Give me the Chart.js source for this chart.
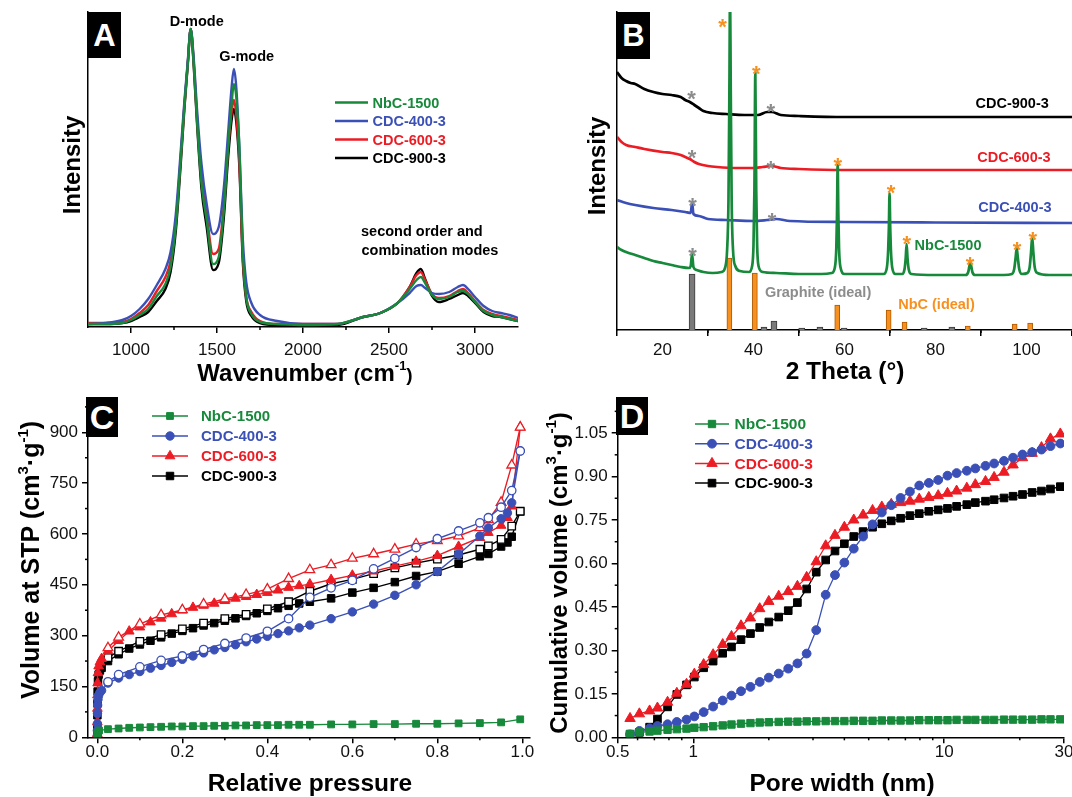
<!DOCTYPE html>
<html>
<head>
<meta charset="utf-8">
<script src="https://cdn.jsdelivr.net/npm/chart.js@4.4.0/dist/chart.umd.min.js"></script>
<style>
html, body { margin: 0; padding: 0; background: #fff; width: 1072px; height: 797px; overflow: hidden; position: relative; }
canvas { position: absolute; }
.tag { position: absolute; background: #000; color: #fff; font-family: 'Liberation Sans', Arial, sans-serif; font-weight: bold; text-align: center; z-index: 5; }
</style>
</head>
<body>
<canvas id="chartA" width="540" height="400" style="left:0;top:0"></canvas>
<canvas id="chartB" width="560" height="400" style="left:536px;top:0"></canvas>
<canvas id="chartC" width="560" height="397" style="left:0;top:400px"></canvas>
<canvas id="chartD" width="560" height="397" style="left:536px;top:400px"></canvas>
<div class="tag" style="left:88px;top:12px;width:33px;height:46px;line-height:47px;font-size:31px">A</div>
<div class="tag" style="left:617px;top:12px;width:33px;height:47px;line-height:48px;font-size:31px">B</div>
<div class="tag" style="left:86px;top:397px;width:32px;height:40px;line-height:40px;font-size:34px">C</div>
<div class="tag" style="left:616px;top:397px;width:32px;height:38px;line-height:38px;font-size:34px">D</div>
<script>
// ---- A: Raman spectra ----
const ramanShift = [750, 850, 950, 1000, 1050, 1100, 1150, 1200, 1230, 1260, 1290, 1310, 1330, 1347, 1365, 1385, 1410, 1440, 1477, 1510, 1540, 1565, 1585, 1598, 1612, 1630, 1650, 1670, 1700, 1750, 1850, 2000, 2200, 2350, 2450, 2550, 2620, 2660, 2685, 2710, 2750, 2790, 2850, 2900, 2930, 2960, 3000, 3050, 3100, 3150, 3200, 3250];
const ramanNbC = [3, 3, 4, 7, 12, 18, 31, 43, 60, 100, 170, 220, 263, 298, 262, 203, 143, 107, 63, 70, 117, 180, 223, 243, 230, 180, 75, 30, 13, 5, 3, 2, 3, 10, 14, 24, 38, 47, 50, 44, 32, 28, 30, 35, 36, 33, 25, 16, 12, 10, 8, 6];
const ramanC400 = [3, 4, 7, 11, 18, 28, 42, 58, 75, 112, 178, 225, 266, 298, 268, 215, 163, 123, 93, 100, 140, 195, 240, 258, 240, 180, 88, 45, 24, 12, 6, 3, 3, 10, 14, 24, 34, 41, 42, 39, 34, 33, 35, 40, 42, 38, 30, 21, 16, 14, 12, 9];
const ramanC600 = [4, 4, 5, 8, 14, 22, 36, 50, 66, 104, 172, 221, 264, 298, 264, 207, 150, 112, 73, 78, 122, 180, 215, 227, 212, 165, 70, 30, 15, 6, 3, 3, 3, 10, 14, 24, 40, 52, 55, 47, 33, 29, 31, 36, 38, 34, 26, 17, 13, 11, 9, 7];
const ramanC900 = [3, 3, 4, 6, 10, 15, 26, 38, 55, 95, 165, 217, 262, 298, 260, 200, 138, 100, 57, 64, 110, 170, 207, 218, 205, 160, 65, 26, 11, 4, 2, 2, 2, 10, 14, 24, 40, 54, 58, 48, 31, 25, 28, 32, 34, 31, 24, 15, 11, 10, 8, 6];
const ramanTicks = [1000, 1500, 2000, 2500, 3000];
const ramanMinor = [1250, 1750, 2250, 2750];

// ---- B: XRD patterns, [2theta, offset intensity] ----
const xrdC900 = [[10,258],[11,252],[12,249],[13,247],[14,246],[16,241],[18,238],[20,236],[22,235],[24,233],[25,230],[26,228],[27,225],[28,222],[29,219],[31,217],[34,216],[38,215],[41,215],[43,218],[44,218],[46,215],[50,214],[60,213],[70,213],[80,213],[90,213],[100,213],[110,213]];
const xrdC600 = [[10,193],[11,188],[12,185],[14,183],[16,181],[20,178],[22,177],[24,175],[25,173],[26,171],[27,168],[28,166],[30,164],[32,163],[36,162],[40,162],[42,163],[44,164],[46,162],[50,161],[60,160],[80,160],[110,160]];
const xrdC400 = [[10,130],[12,127],[14,125],[18,122],[22,120],[25,118],[26.2,117],[26.5,127],[26.8,116],[28,114],[30,111],[34,110],[40,109],[43,110],[45,111],[48,109],[60,108],[80,107.5],[110,107]];
const xrdNbC = [[10,83],[11,80],[12,78],[14,75],[16,72],[18,69],[20,67],[22,65],[24,63],[25.8,62],[26.2,64],[26.5,76],[26.8,63],[27.5,60],[29,58],[31,57],[33,58],[33.8,63],[34.2,80],[34.5,130],[34.7,240],[34.85,340],[35.0,240],[35.2,130],[35.5,80],[36,64],[37,59],[39,58],[39.7,64],[40.0,85],[40.2,140],[40.4,257],[40.6,140],[40.8,85],[41.1,64],[42,58],[45,57],[50,56],[55,56],[57.2,57],[57.9,63],[58.2,82],[58.35,115],[58.5,165],[58.65,115],[58.8,82],[59.1,63],[60,56],[65,56],[68.6,56],[69.3,62],[69.6,80],[69.75,102],[69.9,137],[70.05,102],[70.2,80],[70.5,62],[71.2,56],[72.7,56],[73.2,61],[73.45,72],[73.65,86],[73.85,72],[74.1,61],[74.7,56],[80,55],[86.6,55],[87.2,58],[87.45,64],[87.65,68],[87.85,64],[88.1,58],[88.7,55],[95,55],[96.8,56],[97.3,61],[97.6,72],[97.85,82],[98.1,72],[98.4,61],[99,56],[100.2,57],[100.7,63],[101.0,78],[101.25,93],[101.5,78],[101.8,63],[102.4,57],[105,55],[110,55]];
const graphiteRef = [[26.5,56],[42.3,3],[44.5,9],[50.6,2],[54.6,3],[59.9,2],[77.5,2],[83.6,3]];
const nbcRef = [[34.7,72],[40.3,57],[58.4,25],[69.7,20],[73.2,8],[87.1,4],[97.4,6],[100.8,7]];
const orangeStars = [[33.2,309],[40.6,262],[58.5,170],[70.2,143],[73.7,92],[87.6,71],[97.9,86],[101.4,96]];
const grayStars = [[26.4,237],[43.8,224],[26.5,178],[43.8,167],[26.6,130],[44.1,115],[26.6,80]];
const thetaTicks = [20, 40, 60, 80, 100];
const thetaMinor = [30, 50, 70, 90];

// ---- C: N2 isotherms ----
const pAds = [0.00001, 0.00005, 0.0001, 0.0003, 0.0007, 0.0015, 0.003, 0.006, 0.01, 0.025, 0.05, 0.075, 0.1, 0.125, 0.15, 0.175, 0.2, 0.225, 0.25, 0.275, 0.3, 0.325, 0.35, 0.375, 0.4, 0.425, 0.45, 0.475, 0.5, 0.55, 0.6, 0.65, 0.7, 0.75, 0.8, 0.85, 0.9, 0.92, 0.95, 0.965, 0.975, 0.995];
const pDes = [0.995, 0.975, 0.95, 0.92, 0.9, 0.85, 0.8, 0.75, 0.7, 0.65, 0.6, 0.55, 0.5, 0.45, 0.4, 0.35, 0.3, 0.25, 0.2, 0.15, 0.1, 0.05, 0.025];
const pNbC = [0.0002, 0.001, 0.004, 0.025, 0.05, 0.075, 0.1, 0.125, 0.15, 0.175, 0.2, 0.225, 0.25, 0.275, 0.3, 0.325, 0.35, 0.375, 0.4, 0.425, 0.45, 0.475, 0.5, 0.55, 0.6, 0.65, 0.7, 0.75, 0.8, 0.85, 0.9, 0.95, 0.995];
const adsNbC = [5, 14, 20, 24, 26, 28, 29, 30, 31, 32, 32, 33, 33, 34, 34, 35, 35, 36, 36, 36, 37, 37, 37, 38, 38, 39, 39, 40, 40, 41, 42, 44, 53];
const adsC400 = [5, 20, 40, 70, 95, 112, 124, 132, 138, 160, 175, 185, 194, 204, 212, 221, 230, 240, 249, 258, 265, 273, 282, 290, 298, 306, 314, 323, 331, 350, 370, 393, 419, 450, 489, 540, 594, 618, 645, 662, 692, 845];
const desC400 = [845, 728, 679, 648, 633, 609, 586, 560, 528, 497, 463, 441, 413, 350, 313, 293, 277, 259, 240, 227, 208, 185, 164];
const adsC600 = [10, 45, 85, 125, 160, 190, 210, 222, 232, 255, 285, 313, 325, 340, 351, 364, 375, 383, 389, 395, 403, 410, 415, 421, 427, 434, 442, 447, 452, 465, 478, 490, 505, 519, 536, 563, 589, 604, 625, 648, 682, 915];
const desC600 = [915, 803, 693, 642, 618, 594, 580, 570, 555, 541, 528, 509, 494, 468, 437, 421, 408, 393, 376, 361, 334, 295, 264];
const adsC900 = [5, 30, 65, 100, 135, 165, 185, 197, 205, 225, 245, 262, 274, 285, 295, 306, 314, 322, 330, 337, 344, 351, 358, 366, 373, 381, 388, 395, 400, 410, 427, 441, 458, 476, 489, 512, 534, 541, 563, 575, 592, 667];
const desC900 = [667, 623, 584, 565, 555, 538, 526, 514, 500, 483, 466, 453, 431, 400, 379, 363, 350, 337, 320, 303, 283, 254, 235];
const pressureTicks = [0, 0.2, 0.4, 0.6, 0.8, 1.0];
const pressureMinor = [0.1, 0.3, 0.5, 0.7, 0.9];
const volumeTicks = [0, 150, 300, 450, 600, 750, 900];
const volumeMinor = [75, 225, 375, 525, 675, 825, 975];

// ---- D: cumulative pore volume ----
const poreWidth = [0.56, 0.61, 0.67, 0.72, 0.79, 0.86, 0.94, 1.01, 1.1, 1.2, 1.31, 1.42, 1.55, 1.69, 1.84, 2.0, 2.19, 2.39, 2.6, 2.83, 3.09, 3.37, 3.67, 4.0, 4.36, 4.75, 5.18, 5.64, 6.15, 6.7, 7.3, 7.95, 8.68, 9.46, 10.3, 11.2, 12.3, 13.3, 14.6, 15.8, 17.3, 18.8, 20.5, 22.4, 24.4, 26.5, 29.0];
const cumNbC = [0.012, 0.017, 0.02, 0.023, 0.026, 0.028, 0.03, 0.033, 0.035, 0.038, 0.041, 0.044, 0.047, 0.049, 0.051, 0.052, 0.053, 0.054, 0.054, 0.055, 0.055, 0.056, 0.056, 0.056, 0.057, 0.057, 0.057, 0.058, 0.058, 0.058, 0.058, 0.059, 0.059, 0.059, 0.059, 0.06, 0.06, 0.06, 0.06, 0.06, 0.061, 0.061, 0.061, 0.061, 0.062, 0.062, 0.062];
const cumC400 = [0.010, 0.022, 0.031, 0.039, 0.045, 0.053, 0.061, 0.072, 0.087, 0.106, 0.127, 0.144, 0.159, 0.174, 0.191, 0.206, 0.22, 0.237, 0.255, 0.289, 0.37, 0.492, 0.56, 0.603, 0.651, 0.693, 0.735, 0.776, 0.801, 0.826, 0.848, 0.869, 0.878, 0.888, 0.903, 0.912, 0.92, 0.928, 0.937, 0.945, 0.954, 0.965, 0.976, 0.984, 0.993, 1.005, 1.014];
const cumC600 = [0.065, 0.081, 0.091, 0.101, 0.121, 0.152, 0.183, 0.218, 0.251, 0.285, 0.32, 0.348, 0.385, 0.412, 0.444, 0.469, 0.487, 0.503, 0.521, 0.552, 0.606, 0.661, 0.697, 0.725, 0.75, 0.767, 0.783, 0.795, 0.804, 0.81, 0.815, 0.822, 0.828, 0.834, 0.842, 0.85, 0.86, 0.872, 0.883, 0.897, 0.915, 0.94, 0.965, 0.98, 1.0, 1.03, 1.047];
const cumC900 = [0.01, 0.017, 0.035, 0.063, 0.105, 0.148, 0.181, 0.208, 0.24, 0.263, 0.29, 0.312, 0.337, 0.358, 0.379, 0.398, 0.415, 0.437, 0.465, 0.512, 0.57, 0.612, 0.643, 0.668, 0.693, 0.71, 0.725, 0.737, 0.747, 0.756, 0.765, 0.772, 0.78, 0.785, 0.79, 0.797, 0.803, 0.81, 0.815, 0.82, 0.826, 0.832, 0.838, 0.845, 0.85, 0.857, 0.865];
const widthTicks = [0.5, 1, 10, 30];
const widthMinor = [0.6, 0.7, 0.8, 0.9, 2, 3, 4, 5, 6, 7, 8, 9, 20];
const cumTicks = [0, 0.15, 0.3, 0.45, 0.6, 0.75, 0.9, 1.05];
const cumMinor = [0.075, 0.225, 0.375, 0.525, 0.675, 0.825, 0.975, 1.125];

// ---- styling ----
const FONT = "'Liberation Sans', Arial, sans-serif";
const GREEN = '#17893b', BLUE = '#3b50b6', RED = '#ec1c24', BLACK = '#000000';
const ORANGE = '#f7901e', GRAY = '#858585';
Chart.defaults.font.family = FONT;
Chart.defaults.color = '#111';

const tickGrid = { display: true, drawOnChartArea: false, drawTicks: true, tickLength: 6, color: '#000', lineWidth: 1.5 };
const axisBorder = { display: true, color: '#000', width: 1.5 };
const fitY = w => s => { s.width = w; s.paddingTop = 0; s.paddingBottom = 0; };
const fitX = h => s => { s.height = h; s.paddingLeft = 0; s.paddingRight = 0; };
const setTicks = vals => s => { s.ticks = vals.map(v => ({ value: v })); };

function marker(ctx, style, x, y, r, color, fill) {
  ctx.save();
  ctx.fillStyle = fill; ctx.strokeStyle = color; ctx.lineWidth = 1;
  ctx.beginPath();
  if (style === 'rect') { const h = r * Math.SQRT1_2; ctx.rect(x - h, y - h, 2 * h, 2 * h); }
  else if (style === 'circle') { ctx.arc(x, y, r, 0, Math.PI * 2); }
  else { ctx.moveTo(x, y - r); ctx.lineTo(x + r * 0.866, y + r * 0.5); ctx.lineTo(x - r * 0.866, y + r * 0.5); ctx.closePath(); }
  ctx.fill(); ctx.stroke();
  ctx.restore();
}

function richText(ctx, t, ox, oy) {
  ctx.save();
  ctx.translate(t.x - ox, t.y - oy);
  if (t.rot) ctx.rotate(-Math.PI / 2);
  let w = 0;
  t.parts.forEach(p => { ctx.font = `bold ${p[1]}px ${FONT}`; w += ctx.measureText(p[0]).width; });
  let x = -w / 2;
  const base = t.parts[0][1] * 0.36;
  ctx.textAlign = 'left'; ctx.textBaseline = 'alphabetic'; ctx.fillStyle = '#000';
  t.parts.forEach(p => {
    ctx.font = `bold ${p[1]}px ${FONT}`;
    ctx.fillText(p[0], x, base + (p[2] || 0));
    x += ctx.measureText(p[0]).width;
  });
  ctx.restore();
}

function makeOverlay(cfg) {
  return {
    id: 'overlay',
    afterDraw(chart) {
      const ctx = chart.ctx, ox = cfg.off[0], oy = cfg.off[1];
      const xs = chart.scales.x, ys = chart.scales.y;
      ctx.save();
      ctx.strokeStyle = '#000'; ctx.lineWidth = 1.5;
      (cfg.minor || []).forEach(m => {
        const s = chart.scales[m.axis];
        m.values.forEach(v => {
          const p = s.getPixelForValue(v);
          ctx.beginPath();
          if (m.axis === 'x') { ctx.moveTo(p, s.top); ctx.lineTo(p, s.top + m.len); }
          else { ctx.moveTo(s.right, p); ctx.lineTo(s.right - m.len, p); }
          ctx.stroke();
        });
      });
      (cfg.titles || []).forEach(t => richText(ctx, t, ox, oy));
      (cfg.notes || []).forEach(n => {
        ctx.font = `bold ${n.size}px ${FONT}`; ctx.fillStyle = n.color;
        ctx.textAlign = n.align || 'center'; ctx.textBaseline = 'middle';
        ctx.fillText(n.text, xs.getPixelForValue(n.x), ys.getPixelForValue(n.y));
      });
      (cfg.stars || []).forEach(g => {
        ctx.font = `bold 22px ${FONT}`; ctx.fillStyle = g.color;
        ctx.textAlign = 'center'; ctx.textBaseline = 'alphabetic';
        g.pts.forEach(p => ctx.fillText('*', xs.getPixelForValue(p[0]), ys.getPixelForValue(p[1]) + 12.5));
      });
      const L = cfg.legend;
      if (L) {
        L.items.forEach((it, i) => {
          const y = L.y0 + i * L.rowH - oy;
          ctx.strokeStyle = it.color; ctx.lineWidth = L.lw;
          ctx.beginPath(); ctx.moveTo(L.x0 - ox, y); ctx.lineTo(L.x1 - ox, y); ctx.stroke();
          if (it.style) marker(ctx, it.style, (L.x0 + L.x1) / 2 - ox, y, it.r, it.color, it.color);
          ctx.font = `bold ${L.size}px ${FONT}`; ctx.fillStyle = it.color;
          ctx.textAlign = 'left'; ctx.textBaseline = 'middle';
          ctx.fillText(it.label, L.tx - ox, y + 1);
        });
      }
      ctx.restore();
    }
  };
}

const baseOpts = { responsive: false, animation: false, events: [], devicePixelRatio: 1 };
const noPlugins = { legend: { display: false }, tooltip: { enabled: false } };
const xyOf = (xs, ys) => xs.map((x, i) => ({ x: x, y: ys[i] }));
const pairs = arr => arr.map(p => ({ x: p[0], y: p[1] }));

// ---------- Chart A ----------
function ramanSet(label, vals, color) {
  return { label, data: xyOf(ramanShift, vals), borderColor: color, borderWidth: 2.4, pointRadius: 0, cubicInterpolationMode: 'monotone' };
}
new Chart(document.getElementById('chartA'), {
  type: 'line',
  data: { datasets: [
    ramanSet('NbC-1500', ramanNbC, GREEN),
    ramanSet('CDC-400-3', ramanC400, BLUE),
    ramanSet('CDC-600-3', ramanC600, RED),
    ramanSet('CDC-900-3', ramanC900, BLACK)
  ] },
  options: Object.assign({}, baseOpts, {
    layout: { padding: { top: 12, right: 22, left: 0, bottom: 0 } },
    plugins: noPlugins,
    scales: {
      x: { type: 'linear', min: 750, max: 3250, offset: false, afterBuildTicks: setTicks(ramanTicks), afterFit: fitX(73),
           grid: tickGrid, border: axisBorder,
           ticks: { font: { size: 17 }, padding: 7, maxRotation: 0, autoSkip: false, callback: v => String(v) } },
      y: { type: 'linear', min: 0, max: 315, afterFit: fitY(88), grid: { display: false }, border: axisBorder, ticks: { display: false } }
    }
  }),
  plugins: [makeOverlay({
    off: [0, 0],
    minor: [{ axis: 'x', values: ramanMinor, len: 3 }],
    titles: [
      { x: 305, y: 372, parts: [['Wavenumber ', 24], ['(', 19], ['cm', 24], ['-1', 13, -11], [')', 19]] },
      { x: 71, y: 165, rot: true, parts: [['Intensity', 24]] }
    ],
    notes: [
      { text: 'D-mode', x: 1382, y: 305.5, size: 14.5, color: '#000' },
      { text: 'G-mode', x: 1673, y: 270, size: 14.5, color: '#000' },
      { text: 'second order and', x: 2691, y: 95, size: 14.5, color: '#000' },
      { text: 'combination modes', x: 2738, y: 76, size: 14.5, color: '#000' }
    ],
    legend: { x0: 335, x1: 368, tx: 372.5, y0: 102.5, rowH: 18.5, size: 14.5, lw: 2.4, items: [
      { label: 'NbC-1500', color: GREEN }, { label: 'CDC-400-3', color: BLUE },
      { label: 'CDC-600-3', color: RED }, { label: 'CDC-900-3', color: BLACK }
    ] }
  })]
});

// ---------- Chart B ----------
function xrdSet(label, pts, color) {
  return { label, data: pairs(pts), borderColor: color, borderWidth: 2.7, pointRadius: 0, cubicInterpolationMode: 'monotone' };
}
function refSet(label, pts, fill, edge, w) {
  return { type: 'bar', label, data: pairs(pts), backgroundColor: fill, borderColor: edge, borderWidth: 1, barThickness: w, grouped: false };
}
new Chart(document.getElementById('chartB'), {
  type: 'line',
  data: { datasets: [
    xrdSet('NbC-1500', xrdNbC, GREEN),
    xrdSet('CDC-400-3', xrdC400, BLUE),
    xrdSet('CDC-600-3', xrdC600, RED),
    xrdSet('CDC-900-3', xrdC900, BLACK),
    refSet('NbC (ideal)', nbcRef, ORANGE, '#b05a00', 5),
    refSet('Graphite (ideal)', graphiteRef, '#7a7a7a', '#3a3a3a', 6)
  ] },
  options: Object.assign({}, baseOpts, {
    layout: { padding: { top: 12, right: 24, left: 0, bottom: 0 } },
    plugins: noPlugins,
    scales: {
      x: { type: 'linear', min: 10, max: 110, offset: false, afterBuildTicks: setTicks(thetaTicks), afterFit: fitX(70),
           grid: tickGrid, border: axisBorder,
           ticks: { font: { size: 17 }, padding: 4, maxRotation: 0, autoSkip: false, callback: v => String(v) } },
      y: { type: 'linear', min: 0, max: 318, afterFit: fitY(81), grid: { display: false }, border: axisBorder, ticks: { display: false } }
    }
  }),
  plugins: [makeOverlay({
    off: [536, 0],
    minor: [{ axis: 'x', values: thetaMinor, len: 3 }],
    titles: [
      { x: 845, y: 370, parts: [['2 Theta (°)', 24.5]] },
      { x: 596, y: 166, rot: true, parts: [['Intensity', 24]] }
    ],
    notes: [
      { text: 'CDC-900-3', x: 104.9, y: 226, size: 14.5, color: BLACK, align: 'right' },
      { text: 'CDC-600-3', x: 105.3, y: 172, size: 14.5, color: RED, align: 'right' },
      { text: 'CDC-400-3', x: 105.5, y: 122, size: 14.5, color: BLUE, align: 'right' },
      { text: 'NbC-1500', x: 75.4, y: 84, size: 14.5, color: GREEN, align: 'left' },
      { text: 'Graphite (ideal)', x: 42.5, y: 37, size: 14.5, color: '#8c8c8c', align: 'left' },
      { text: 'NbC (ideal)', x: 71.8, y: 25, size: 14.5, color: ORANGE, align: 'left' }
    ],
    stars: [{ color: ORANGE, pts: orangeStars }, { color: '#8c8c8c', pts: grayStars }]
  })]
});

// ---------- Chart C ----------
function isoSet(label, xs, ys, color, style, r, open) {
  return { label, data: xyOf(xs, ys), borderColor: color, borderWidth: 1.4, pointStyle: style, pointRadius: r,
           pointBorderColor: color, pointBorderWidth: open ? 1.3 : 1, pointBackgroundColor: open ? '#fff' : color };
}
new Chart(document.getElementById('chartC'), {
  type: 'line',
  data: { datasets: [
    isoSet('NbC-1500', pNbC, adsNbC, GREEN, 'rect', 4.8, false),
    isoSet('CDC-400-3 des', pDes, desC400, BLUE, 'circle', 4.2, true),
    isoSet('CDC-400-3', pAds, adsC400, BLUE, 'circle', 4.2, false),
    isoSet('CDC-600-3 des', pDes, desC600, RED, 'triangle', 5.6, true),
    isoSet('CDC-600-3', pAds, adsC600, RED, 'triangle', 5.6, false),
    isoSet('CDC-900-3 des', pDes, desC900, BLACK, 'rect', 5.3, true),
    isoSet('CDC-900-3', pAds, adsC900, BLACK, 'rect', 5.3, false)
  ] },
  options: Object.assign({}, baseOpts, {
    layout: { padding: { top: 2.5, right: 30, left: 0, bottom: 0 } },
    plugins: noPlugins,
    scales: {
      x: { type: 'linear', min: -0.022, max: 1.018, offset: false, afterBuildTicks: setTicks(pressureTicks), afterFit: fitX(59.7),
           grid: tickGrid, border: axisBorder,
           ticks: { font: { size: 17 }, padding: -1, maxRotation: 0, autoSkip: false, callback: v => v.toFixed(1) } },
      y: { type: 'linear', min: 0, max: 975, afterBuildTicks: setTicks(volumeTicks), afterFit: fitY(88),
           grid: tickGrid, border: axisBorder,
           ticks: { font: { size: 17 }, padding: 4, autoSkip: false, callback: v => String(v) } }
    }
  }),
  plugins: [makeOverlay({
    off: [0, 400],
    minor: [{ axis: 'x', values: pressureMinor, len: 3 }, { axis: 'y', values: volumeMinor, len: 3 }],
    titles: [
      { x: 310, y: 782, parts: [['Relative pressure', 24.5]] },
      { x: 30, y: 560, rot: true, parts: [['Volume at STP (cm', 25], ['3', 15, -11], ['·g', 25], ['-1', 15, -11], [')', 25]] }
    ],
    legend: { x0: 152, x1: 188, tx: 201, y0: 416, rowH: 20, size: 15, lw: 1.5, items: [
      { label: 'NbC-1500', color: GREEN, style: 'rect', r: 4.8 }, { label: 'CDC-400-3', color: BLUE, style: 'circle', r: 4.2 },
      { label: 'CDC-600-3', color: RED, style: 'triangle', r: 5.6 }, { label: 'CDC-900-3', color: BLACK, style: 'rect', r: 5.3 }
    ] }
  })]
});

// ---------- Chart D ----------
function cumSet(label, ys, color, style, r) {
  return { label, data: xyOf(poreWidth, ys), borderColor: color, borderWidth: 1.3, pointStyle: style, pointRadius: r,
           pointBorderColor: color, pointBorderWidth: 1, pointBackgroundColor: color };
}
new Chart(document.getElementById('chartD'), {
  type: 'line',
  data: { datasets: [
    cumSet('NbC-1500', cumNbC, GREEN, 'rect', 5.2),
    cumSet('CDC-400-3', cumC400, BLUE, 'circle', 4.4),
    cumSet('CDC-600-3', cumC600, RED, 'triangle', 6),
    cumSet('CDC-900-3', cumC900, BLACK, 'rect', 5.4)
  ] },
  options: Object.assign({}, baseOpts, {
    layout: { padding: { top: 1.8, right: 32, left: 0, bottom: 0 } },
    plugins: noPlugins,
    scales: {
      x: { type: 'logarithmic', min: 0.5, max: 30, offset: false, afterBuildTicks: setTicks(widthTicks), afterFit: fitX(59.7),
           grid: tickGrid, border: axisBorder,
           ticks: { font: { size: 17 }, padding: -1, maxRotation: 0, autoSkip: false, callback: v => String(v) } },
      y: { type: 'linear', min: 0, max: 1.14, afterBuildTicks: setTicks(cumTicks), afterFit: fitY(81.7),
           grid: tickGrid, border: axisBorder,
           ticks: { font: { size: 17 }, padding: 4, autoSkip: false, callback: v => v.toFixed(2) } }
    }
  }),
  plugins: [makeOverlay({
    off: [536, 400],
    minor: [{ axis: 'x', values: widthMinor, len: 3 }, { axis: 'y', values: cumMinor, len: 3 }],
    titles: [
      { x: 842, y: 782, parts: [['Pore width (nm)', 24.5]] },
      { x: 558, y: 573, rot: true, parts: [['Cumulative volume (cm', 24], ['3', 15, -11], ['·g', 24], ['-1', 15, -11], [')', 24]] }
    ],
    legend: { x0: 695, x1: 729, tx: 734.5, y0: 424, rowH: 19.7, size: 15.5, lw: 1.5, items: [
      { label: 'NbC-1500', color: GREEN, style: 'rect', r: 5.2 }, { label: 'CDC-400-3', color: BLUE, style: 'circle', r: 4.4 },
      { label: 'CDC-600-3', color: RED, style: 'triangle', r: 6 }, { label: 'CDC-900-3', color: BLACK, style: 'rect', r: 5.4 }
    ] }
  })]
});
</script>
</body>
</html>
